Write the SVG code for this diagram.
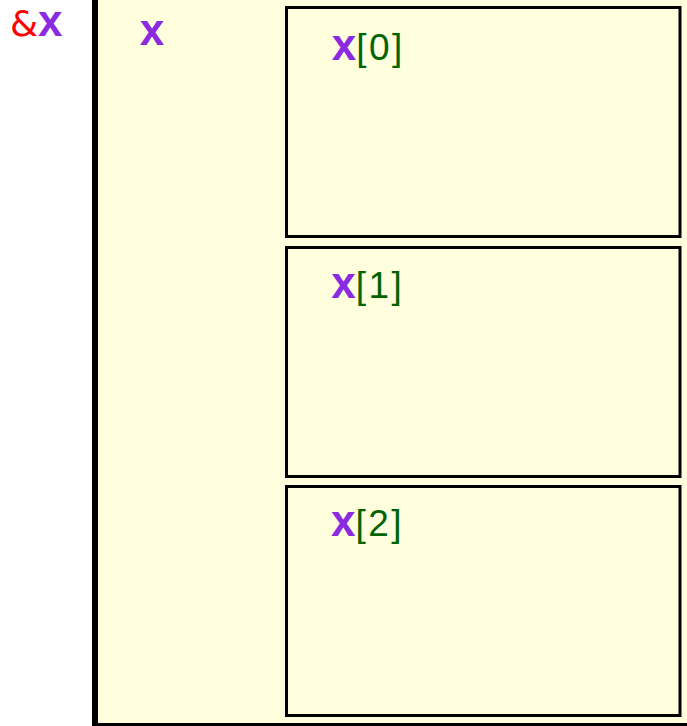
<svg xmlns="http://www.w3.org/2000/svg" width="687" height="726" viewBox="0 0 687 726">
<style>
.outer{fill:#ffffdd;stroke:#000;stroke-width:6}
.cell{fill:#ffffdd;stroke:#000;stroke-width:3}
.v{font-family:"Liberation Sans",Arial,sans-serif;font-weight:bold;font-size:44px;fill:#8a2be2}
.g{font-family:"Liberation Sans",Arial,sans-serif;font-size:37px;letter-spacing:2.5px;fill:#006400}
.r{font-family:"DejaVu Sans",sans-serif;font-size:36px;fill:#ff0000}
</style>
<rect width="687" height="726" fill="#ffffff"/>
<g id="addr-label">
<text x="10" y="36"><tspan class="r">&amp;</tspan><tspan class="v">x</tspan></text>
</g>
<g id="x">
<rect class="outer" x="95" y="-20" width="700" height="746"/>
<text class="v" x="139.7" y="45">x</text>
</g>
<g id="x0">
<rect class="cell" x="286.5" y="7.5" width="393.5" height="229"/>
<text x="331.7" y="60"><tspan class="v">x</tspan><tspan class="g">[0]</tspan></text>
</g>
<g id="x1">
<rect class="cell" x="286.5" y="247.5" width="393.5" height="229"/>
<text x="331.2" y="297.5"><tspan class="v">x</tspan><tspan class="g">[1]</tspan></text>
</g>
<g id="x2">
<rect class="cell" x="286.5" y="486.5" width="393.5" height="229"/>
<text x="331" y="535.5"><tspan class="v">x</tspan><tspan class="g">[2]</tspan></text>
</g>
<g id="connectors"></g>
</svg>
